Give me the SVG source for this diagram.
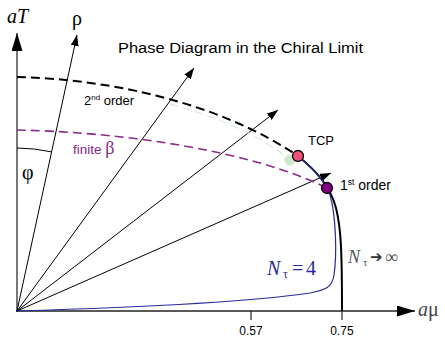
<svg xmlns="http://www.w3.org/2000/svg" width="445" height="337" viewBox="0 0 445 337">
<defs>
<marker id="ah" markerUnits="userSpaceOnUse" markerWidth="11" markerHeight="8" refX="11" refY="4" orient="auto"><path d="M0,0 L11,4 L0,8 z" fill="#000"/></marker>
<marker id="ahy" markerUnits="userSpaceOnUse" markerWidth="18" markerHeight="11" refX="18" refY="5.5" orient="auto"><path d="M0,0 L18,5.5 L0,11 z" fill="#000"/></marker>
</defs>
<style>
.ray{stroke:#000;stroke-width:1;fill:none;marker-end:url(#ah)}
.sans{font-family:"Liberation Sans",Arial,sans-serif}
.serif{font-family:"Liberation Serif","Times New Roman",serif}
</style>
<rect width="445" height="337" fill="#fff"/>
<g id="axes">
<line x1="17" y1="312" x2="17" y2="33" stroke="#555" stroke-width="1.6" marker-end="url(#ahy)"/>
<line x1="16" y1="311" x2="415" y2="311" stroke="#222" stroke-width="1.3" marker-end="url(#ahy)"/>
<line x1="251" y1="311" x2="251" y2="320" stroke="#222" stroke-width="1.2"/>
<line x1="342" y1="311" x2="342" y2="320" stroke="#222" stroke-width="1.2"/>
</g>
<g id="connectors">
<path class="ray" d="M17,311 L77,35"/>
<path class="ray" d="M17,311 L194,68"/>
<path class="ray" d="M17,311 L278,110"/>
<path class="ray" d="M17,311 L331,173"/>
<path d="M17,148 A165,165 0 0 1 52,152" fill="none" stroke="#000" stroke-width="1"/>
<path d="M170,104 C 220,118 260,135 290,160" fill="none" stroke="#d8ecd8" stroke-width="1.3" stroke-dasharray="8,5"/>
<path d="M17,77 C 110,79 220,103 298,156" fill="none" stroke="#000" stroke-width="2" stroke-dasharray="9,5"/>
<path d="M17,130 C 120,132 250,150 327,188" fill="none" stroke="#8b2a8b" stroke-width="1.6" stroke-dasharray="9,5"/>
<path d="M298,156 C 315,170 330,185 336,208 C 341,228 342,250 342,311" fill="none" stroke="#000" stroke-width="2"/>
<path d="M298,156 C 312,168 325,180 330,195 C 336,215 337,255 334,275 C 332,288 325,290 310,293 C 250,302 120,308 17,311" fill="none" stroke="#2a2a9a" stroke-width="1.2"/>
</g>
<g id="green-point"><circle cx="290" cy="160" r="5.5" fill="#cfe6cf" stroke="#e4f0e4" stroke-width="1"/></g>
<g id="tcp"><circle cx="298" cy="156" r="5.5" fill="#f0507a" stroke="#000" stroke-width="1.3"/>
<text class="sans" x="308" y="145" font-size="13">TCP</text></g>
<g id="first-order"><circle cx="327" cy="188" r="5.5" fill="#800080" stroke="#000" stroke-width="1.3"/>
<text class="sans" x="340" y="190" font-size="14">1<tspan font-size="8.5" dy="-5">st</tspan><tspan dy="5"> order</tspan></text></g>
<g id="labels">
<text class="serif" x="7" y="23" font-size="20" font-style="italic">aT</text>
<text class="serif" x="72" y="25" font-size="20">ρ</text>
<text class="serif" x="22" y="179" font-size="20">φ</text>
<text class="sans" x="118" y="53" font-size="15.5" textLength="245" lengthAdjust="spacingAndGlyphs">Phase Diagram in the Chiral Limit</text>
<text class="sans" x="84" y="105" font-size="13">2<tspan font-size="8" dy="-5">nd</tspan><tspan dy="5"> order</tspan></text>
<text class="sans" x="73" y="154" font-size="13.5" fill="#8b2a8b">finite <tspan class="serif" font-size="18">β</tspan></text>
<text class="serif" y="275" font-size="20" fill="#2a2a9a"><tspan x="267" font-style="italic">N</tspan><tspan x="283" font-size="12" dy="3">τ</tspan><tspan x="292" dy="-3">=</tspan><tspan x="306">4</tspan></text>
<text class="serif" y="263" font-size="18" fill="#555"><tspan x="348" font-style="italic">N</tspan><tspan x="363" font-size="11" dy="3">τ</tspan><tspan x="370" dy="-4" font-family="DejaVu Sans, sans-serif" font-size="15" fill="#333">➔</tspan><tspan x="385" dy="1">∞</tspan></text>
<text class="sans" x="251" y="335" font-size="12" text-anchor="middle">0.57</text>
<text class="sans" x="342" y="335" font-size="12" text-anchor="middle">0.75</text>
<text class="serif" x="418" y="316" font-size="20" font-style="italic" fill="#444">a<tspan font-style="normal">μ</tspan></text>
</g>
</svg>
